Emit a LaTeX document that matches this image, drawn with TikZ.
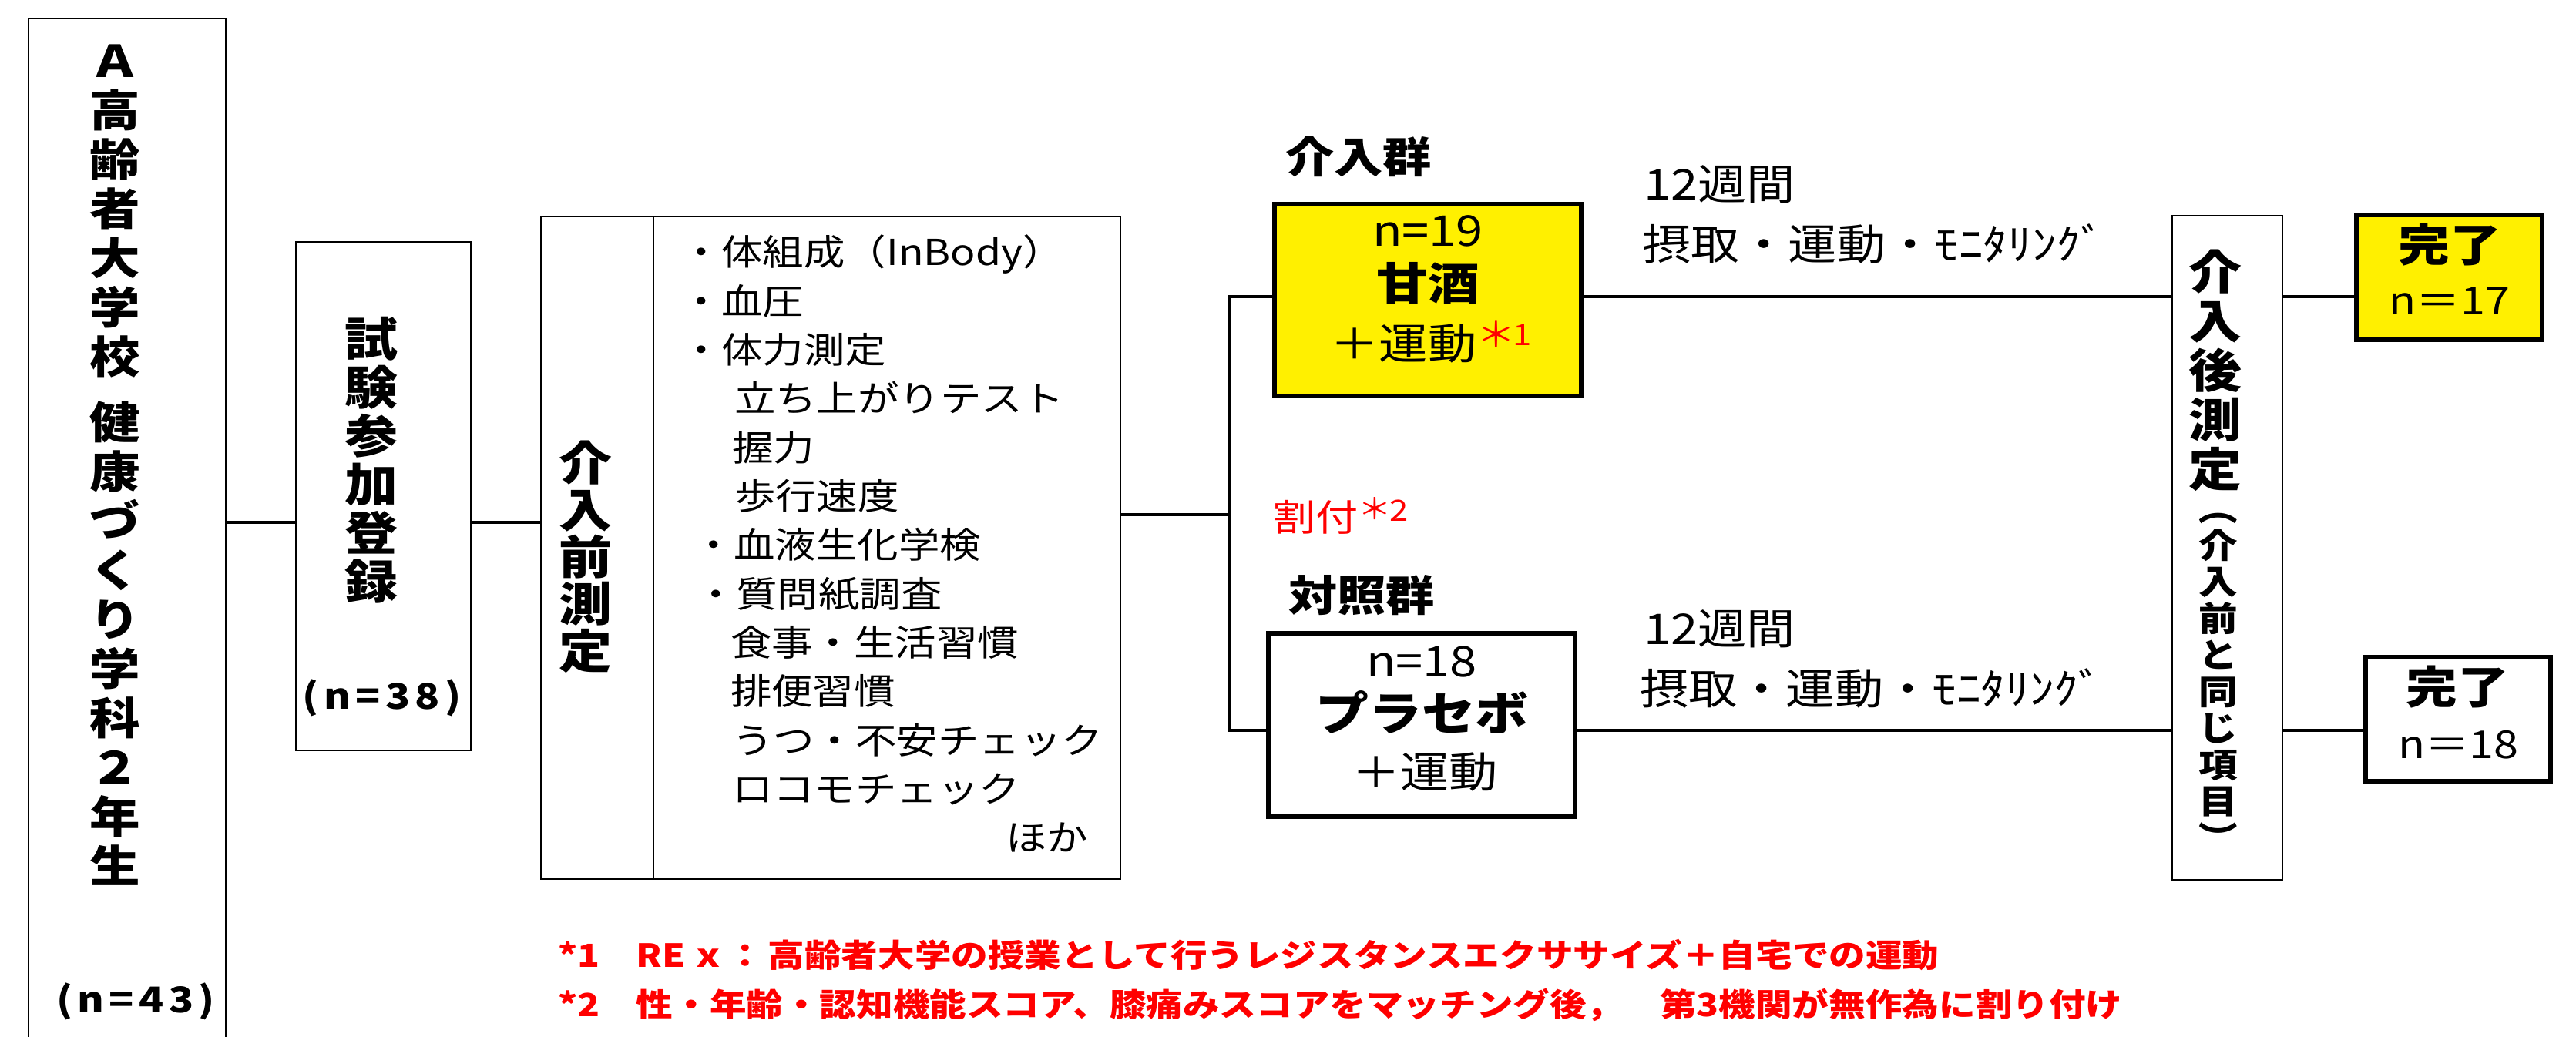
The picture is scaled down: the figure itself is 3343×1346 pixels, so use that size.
\documentclass[tikz,border=0pt]{standalone}
\usepackage{fontspec}
\setmainfont{Noto Sans CJK JP}[FakeStretch=1.15]
\newlength\pxu
\setlength\pxu{0.01cm}
\newcommand\pxf[2]{\fontsize{#1\pxu}{#2\pxu}\selectfont}
\newcommand\sups[3]{\textcolor{red}{\raisebox{#1\pxu}{\pxf{#2}{#2}#3}}}
\definecolor{yel}{RGB}{255,240,0}
\begin{document}
\begin{tikzpicture}[x=0.01cm,y=-0.01cm,
  thinbox/.style={draw=black,line width=2.5\pxu,inner sep=0pt,outer sep=0pt,rectangle},
  thickbox/.style={draw=black,line width=6.5\pxu,inner sep=0pt,outer sep=0pt,rectangle},
  conn/.style={draw=black,line width=4.5\pxu},
  lbl/.style={inner sep=0pt,outer sep=0pt},
  vtext/.style={lbl,align=center},
  listline/.style={lbl,anchor=base west,font=\pxf{46.5}{50}},
  note/.style={lbl,anchor=base west,text=red,font=\bfseries\pxf{41.4}{48}},
]
\useasboundingbox (0,0) rectangle (3343,1346);
\fill[white] (0,0) rectangle (3343,1346);

\coordinate (m1) at (0,678);
\coordinate (m2) at (0,668);
\coordinate (split) at (1595,668);
\coordinate (rowA) at (0,385);
\coordinate (rowB) at (0,948);

% boxes
\node[thinbox,minimum width=256\pxu,minimum height=1340\pxu] (abox) at (165,694) {};
\node[thinbox,minimum width=227\pxu,minimum height=660\pxu] (reg) at (497.5,644) {};
\node[thinbox,minimum width=146\pxu,minimum height=860\pxu] (pre) at (775,711) {};
\node[thinbox,minimum width=606\pxu,minimum height=860\pxu] (list) at (1151,711) {};
\node[thickbox,fill=yel,minimum width=398\pxu,minimum height=249\pxu] (ybox) at (1853,389.5) {};
\node[thickbox,fill=white,minimum width=398\pxu,minimum height=238\pxu] (pbox) at (1845,941) {};
\node[thinbox,minimum width=143\pxu,minimum height=862\pxu] (post) at (2890.5,711) {};
\node[thickbox,fill=yel,minimum width=241\pxu,minimum height=162\pxu] (done1) at (3178.5,360) {};
\node[thickbox,fill=white,minimum width=240\pxu,minimum height=161\pxu] (done2) at (3190,933.5) {};

% connectors
\draw[conn] (abox.east |- m1) -- (reg.west |- m1);
\draw[conn] (reg.east |- m1) -- (pre.west |- m1);
\draw[conn] (list.east |- m2) -- (split);
\draw[conn] (ybox.west |- rowA) -| (split) |- (pbox.west |- rowB);
\draw[conn] (ybox.east |- rowA) -- (post.west |- rowA);
\draw[conn] (pbox.east |- rowB) -- (post.west |- rowB);
\draw[conn] (post.east |- rowA) -- (done1.west |- rowA);
\draw[conn] (post.east |- rowB) -- (done2.west |- rowB);

% texts
\node[vtext,font=\bfseries\pxf{57}{64}] (atext) at (149,604) {Ａ\\高\\齢\\者\\大\\学\\校\\[21\pxu]健\\康\\づ\\く\\り\\学\\科\\２\\年\\生};
\node[lbl,font=\bfseries\pxf{46}{50}\addfontfeature{LetterSpace=14}] (an) at (176,1300) {(n=43)};
\node[vtext,font=\bfseries\pxf{60}{63}] (regtext) at (482,597) {試\\験\\参\\加\\登\\録};
\node[lbl,font=\bfseries\pxf{46}{50}\addfontfeature{LetterSpace=14}] (regn) at (495.5,905.6) {(n=38)};
\node[vtext,font=\bfseries\pxf{60}{61}] (pretext) at (760,723) {介\\入\\前\\測\\定};
\foreach \i/\x/\t in {0/883/・体組成（InBody）, 1/883/・血圧, 2/883/・体力測定, 3/953/立ち上がりテスト, 4/950/握力, 5/953/歩行速度, 6/899/・血液生化学検, 7/902/・質問紙調査, 8/948/食事・生活習慣, 9/948/排便習慣, 10/950/うつ・不安チェック, 11/950/ロコモチェック, 12/1305/ほか}
  \node[listline] (li\i) at (\x,{345+63.3*\i}) {\t};

\node[lbl,font=\bfseries\pxf{55}{60}] (g1) at (1763,203) {介入群};
\node[lbl,font=\bfseries\pxf{55}{60}] (g2) at (1767,773) {対照群};
\node[lbl,font=\pxf{55}{60}] (y1) at (1853,300) {n=19};
\node[lbl,font=\bfseries\pxf{58}{60}] (y2) at (1853,368) {甘酒};
\node[lbl,anchor=base,font=\pxf{55}{60}] (y3) at (1857,466) {＋運動\sups{15}{44}{＊}\kern-4\pxu\sups{18}{38}{1}};
\node[lbl,font=\pxf{55}{60}] (p1) at (1845,859) {n=18};
\node[lbl,font=\bfseries\pxf{60}{64}] (p2) at (1845,925) {プラセボ};
\node[lbl,font=\pxf{55}{60}] (p3) at (1849,1002.5) {＋運動};
\node[lbl,anchor=base west,text=red,font=\pxf{48}{50}] (wari) at (1652,689) {割付\sups{15}{38}{＊}\kern-3\pxu\sups{13}{38}{2}};
\node[lbl,anchor=west,font=\pxf{55}{60}] (t1) at (2133,239) {12週間};
\node[lbl,anchor=west,font=\pxf{55}{60}] (t2) at (2131,316.5) {摂取・運動・ﾓﾆﾀﾘﾝｸﾞ};
\node[lbl,anchor=west,font=\pxf{55}{60}] (t3) at (2133,816) {12週間};
\node[lbl,anchor=west,font=\pxf{55}{60}] (t4) at (2128,893) {摂取・運動・ﾓﾆﾀﾘﾝｸﾞ};
\node[vtext,font=\bfseries\pxf{60}{64}] (posttext) at (2875,481) {介\\入\\後\\測\\定};
\node[vtext,font=\bfseries\pxf{44}{47.5}] (postsub) at (2878.6,885.5) {︵\\介\\入\\前\\と\\同\\じ\\項\\目\\︶};
\node[lbl,font=\bfseries\pxf{58}{60}] (d1a) at (3179,318) {完了};
\node[lbl,font=\pxf{50}{55}] (d1b) at (3179,391) {n＝17};
\node[lbl,font=\bfseries\pxf{58}{60}] (d2a) at (3189.5,892) {完了};
\node[lbl,font=\pxf{50}{55}] (d2b) at (3190.5,967) {n＝18};
\node[note] (fn1) at (724,1255) {*1　RE\kern6\pxu ｘ：\kern6\pxu 高齢者大学の授業として行うレジスタンスエクササイズ＋自宅での運動};
\node[note] (fn2) at (724,1319) {*2　性・年齢・認知機能スコア、膝痛みスコアをマッチング後，　第3機関が無作為に割り付け};
\end{tikzpicture}
\end{document}
